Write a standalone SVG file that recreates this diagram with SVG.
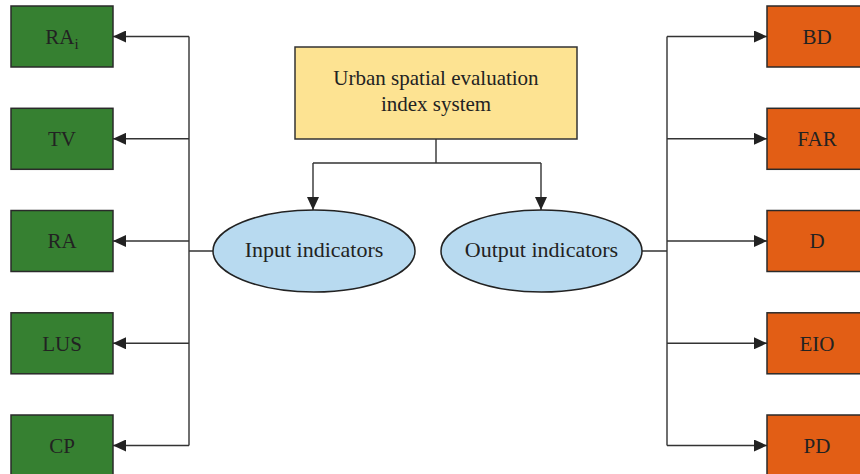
<svg xmlns="http://www.w3.org/2000/svg" width="860" height="474" viewBox="0 0 860 474">
<defs>
<marker id="arr" viewBox="0 0 13 12" refX="13" refY="6" markerWidth="13" markerHeight="12" markerUnits="userSpaceOnUse" orient="auto">
<path d="M0,0 L13,6 L0,12 Z" fill="#222"/>
</marker>
</defs>
<style>
text{font-family:"Liberation Serif","Times New Roman",serif;font-size:21px;fill:#222;text-anchor:middle}
.l{font-size:22px}
.g{fill:#368031;stroke:#2a2a2a;stroke-width:1.5}
.o{fill:#e25e15;stroke:#2a2a2a;stroke-width:1.5}
.y{fill:#fde392;stroke:#333;stroke-width:1.5}
.e{fill:#b8daf0;stroke:#222;stroke-width:1.5}
.c{fill:none;stroke:#333;stroke-width:1.4}
.a{marker-end:url(#arr)}
</style>
<rect width="860" height="474" fill="#fff"/>
<g id="connectors">
<path class="c" d="M436,139 V163 M313,163 H541"/>
<path class="c a" d="M313,163 V210"/>
<path class="c a" d="M541,163 V210"/>
<path class="c" d="M213,251 H189 M189,36.5 V445.5"/>
<path class="c a" d="M189,36.5 H113"/>
<path class="c a" d="M189,138.8 H113"/>
<path class="c a" d="M189,241 H113"/>
<path class="c a" d="M189,343.3 H113"/>
<path class="c a" d="M189,445.5 H113"/>
<path class="c" d="M642,251 H667 M667,36.5 V445.5"/>
<path class="c a" d="M667,36.5 H767"/>
<path class="c a" d="M667,138.8 H767"/>
<path class="c a" d="M667,241 H767"/>
<path class="c a" d="M667,343.3 H767"/>
<path class="c a" d="M667,445.5 H767"/>
</g>
<g id="root"><rect class="y" x="295" y="47" width="282" height="92"/><text x="436" y="85">Urban spatial evaluation</text><text x="436" y="111">index system</text></g>
<g id="input"><ellipse class="e" cx="314" cy="251" rx="101" ry="41"/><text class="l" x="314" y="257">Input indicators</text></g>
<g id="output"><ellipse class="e" cx="541.5" cy="251" rx="100.5" ry="41"/><text class="l" x="541.5" y="257">Output indicators</text></g>
<g id="RAi"><rect class="g" x="11" y="6" width="102" height="61"/><text x="62" y="43.5">RA<tspan font-size="15" dy="5">i</tspan></text></g>
<g id="TV"><rect class="g" x="11" y="108.3" width="102" height="61"/><text x="62" y="146">TV</text></g>
<g id="RA"><rect class="g" x="11" y="210.5" width="102" height="61"/><text x="62" y="248">RA</text></g>
<g id="LUS"><rect class="g" x="11" y="312.8" width="102" height="61"/><text x="62" y="350.5">LUS</text></g>
<g id="CP"><rect class="g" x="11" y="415" width="102" height="61"/><text x="62" y="452.5">CP</text></g>
<g id="BD"><rect class="o" x="767" y="6" width="102" height="61"/><text x="817" y="43.5">BD</text></g>
<g id="FAR"><rect class="o" x="767" y="108.3" width="102" height="61"/><text x="817" y="146">FAR</text></g>
<g id="D"><rect class="o" x="767" y="210.5" width="102" height="61"/><text x="817" y="248">D</text></g>
<g id="EIO"><rect class="o" x="767" y="312.8" width="102" height="61"/><text x="817" y="350.5">EIO</text></g>
<g id="PD"><rect class="o" x="767" y="415" width="102" height="61"/><text x="817" y="452.5">PD</text></g>
</svg>
